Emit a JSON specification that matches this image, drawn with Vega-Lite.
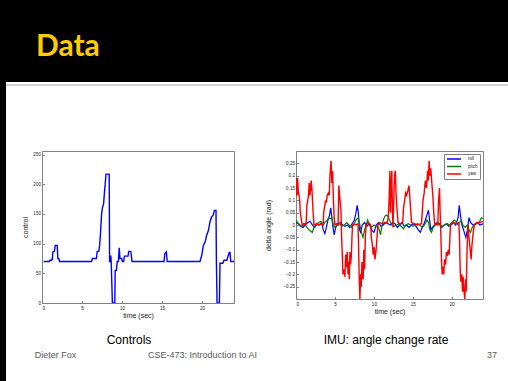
{
  "$schema": "https://vega.github.io/schema/vega-lite/v6.json",
  "padding": 0,
  "background": "white",
  "data": {"values": [{"k": 1}]},
  "datasets": {
    "controls": [
      {"t":0.2,"v":70},{"t":0.9,"v":70},{"t":1.0,"v":72},{"t":1.2,"v":72},{"t":1.25,"v":74},{"t":1.3,"v":74},{"t":1.35,"v":86},{"t":1.55,"v":87},{"t":1.65,"v":97},{"t":1.9,"v":97},{"t":1.98,"v":75},{"t":2.1,"v":75},{"t":2.2,"v":70},
      {"t":6.2,"v":70},{"t":6.3,"v":75},{"t":6.8,"v":75},{"t":6.9,"v":87},{"t":7.1,"v":87},{"t":7.2,"v":97},{"t":7.3,"v":115},{"t":7.45,"v":150},{"t":7.55,"v":160},{"t":7.7,"v":167},{"t":7.8,"v":185},{"t":7.9,"v":200},{"t":8.0,"v":217},{"t":8.4,"v":217},{"t":8.45,"v":70},{"t":8.55,"v":70},{"t":8.6,"v":80},{"t":8.65,"v":70},{"t":8.8,"v":0},{"t":9.1,"v":0},{"t":9.15,"v":55},{"t":9.3,"v":55},{"t":9.4,"v":70},{"t":9.55,"v":70},{"t":9.65,"v":93},{"t":9.75,"v":75},{"t":9.95,"v":75},{"t":10.05,"v":70},{"t":10.2,"v":70},{"t":10.3,"v":79},{"t":10.75,"v":79},{"t":10.85,"v":87},{"t":11.1,"v":87},{"t":11.25,"v":70},
      {"t":15.25,"v":70},{"t":15.35,"v":83},{"t":15.55,"v":86},{"t":15.65,"v":70},
      {"t":19.75,"v":70},{"t":19.96,"v":80},{"t":20.17,"v":97},{"t":20.4,"v":103},{"t":20.58,"v":114},{"t":20.8,"v":122},{"t":21.0,"v":137},{"t":21.2,"v":145},{"t":21.4,"v":148},{"t":21.54,"v":156},{"t":21.75,"v":156},{"t":21.8,"v":70},{"t":21.88,"v":0},{"t":22.17,"v":0},{"t":22.25,"v":67},{"t":22.6,"v":67},{"t":22.75,"v":72},{"t":23.1,"v":72},{"t":23.17,"v":75},{"t":23.4,"v":85},{"t":23.5,"v":85},{"t":23.6,"v":70},{"t":24.0,"v":70}
    ],
    "roll": [
      {"t":0,"v":0.01},{"t":0.3,"v":0.005},{"t":0.6,"v":-0.005},{"t":0.9,"v":-0.01},{"t":1.2,"v":0.0},{"t":1.5,"v":0.01},{"t":1.8,"v":0.015},{"t":2.1,"v":0.0},{"t":2.4,"v":-0.01},{"t":2.7,"v":0.005},{"t":3.0,"v":0.0},{"t":3.3,"v":0.01},{"t":3.5,"v":-0.02},{"t":3.7,"v":-0.035},{"t":3.9,"v":-0.01},{"t":4.1,"v":0.02},{"t":4.3,"v":0.04},{"t":4.45,"v":0.07},{"t":4.6,"v":0.03},{"t":4.75,"v":-0.01},{"t":4.9,"v":-0.04},{"t":5.1,"v":-0.01},{"t":5.4,"v":0.005},{"t":5.7,"v":0.01},{"t":6.0,"v":0.0},{"t":6.3,"v":-0.005},{"t":6.6,"v":0.0},{"t":6.9,"v":-0.01},{"t":7.2,"v":0.005},{"t":7.5,"v":0.02},{"t":7.7,"v":0.05},{"t":7.85,"v":0.08},{"t":8.0,"v":0.05},{"t":8.15,"v":-0.02},{"t":8.3,"v":-0.03},{"t":8.5,"v":0.0},{"t":8.8,"v":0.01},{"t":9.1,"v":-0.005},{"t":9.4,"v":0.005},{"t":9.7,"v":-0.02},{"t":10.0,"v":-0.03},{"t":10.3,"v":0.0},{"t":10.6,"v":0.01},{"t":10.9,"v":-0.005},{"t":11.2,"v":0.0},{"t":11.5,"v":0.01},{"t":11.8,"v":0.005},{"t":12.1,"v":0.0},{"t":12.4,"v":0.01},{"t":12.7,"v":0.005},{"t":13.0,"v":-0.01},{"t":13.3,"v":0.0},{"t":13.6,"v":0.01},{"t":13.9,"v":-0.005},{"t":14.2,"v":0.0},{"t":14.5,"v":-0.01},{"t":14.8,"v":0.0},{"t":15.1,"v":0.005},{"t":15.4,"v":-0.005},{"t":15.7,"v":-0.02},{"t":15.95,"v":-0.03},{"t":16.2,"v":-0.01},{"t":16.5,"v":0.01},{"t":16.7,"v":0.03},{"t":16.9,"v":0.05},{"t":17.0,"v":0.06},{"t":17.15,"v":0.02},{"t":17.3,"v":-0.02},{"t":17.5,"v":-0.01},{"t":17.8,"v":0.0},{"t":18.1,"v":0.01},{"t":18.4,"v":0.005},{"t":18.7,"v":-0.01},{"t":19.0,"v":0.0},{"t":19.3,"v":0.005},{"t":19.6,"v":-0.005},{"t":19.9,"v":0.0},{"t":20.2,"v":0.01},{"t":20.5,"v":0.0},{"t":20.8,"v":0.03},{"t":20.95,"v":0.08},{"t":21.1,"v":0.04},{"t":21.3,"v":0.0},{"t":21.5,"v":-0.02},{"t":21.8,"v":-0.05},{"t":22.0,"v":-0.02},{"t":22.2,"v":0.03},{"t":22.4,"v":0.01},{"t":22.7,"v":0.0},{"t":23.0,"v":0.005},{"t":23.3,"v":0.01},{"t":23.6,"v":0.0},{"t":24.0,"v":0.005}
    ],
    "pitch": [
      {"t":0,"v":0.02},{"t":0.2,"v":0.01},{"t":0.5,"v":0.0},{"t":0.8,"v":-0.005},{"t":1.1,"v":0.005},{"t":1.4,"v":-0.01},{"t":1.7,"v":-0.02},{"t":1.9,"v":-0.025},{"t":2.1,"v":-0.03},{"t":2.3,"v":-0.01},{"t":2.6,"v":0.0},{"t":2.9,"v":0.01},{"t":3.2,"v":0.015},{"t":3.4,"v":0.0},{"t":3.7,"v":0.01},{"t":4.0,"v":0.02},{"t":4.2,"v":0.03},{"t":4.4,"v":0.025},{"t":4.6,"v":0.03},{"t":4.8,"v":0.0},{"t":5.0,"v":-0.01},{"t":5.3,"v":0.0},{"t":5.6,"v":0.005},{"t":5.9,"v":-0.005},{"t":6.2,"v":0.0},{"t":6.5,"v":0.01},{"t":6.8,"v":0.0},{"t":7.1,"v":-0.01},{"t":7.4,"v":0.0},{"t":7.7,"v":0.02},{"t":8.0,"v":0.03},{"t":8.2,"v":0.0},{"t":8.4,"v":-0.03},{"t":8.6,"v":-0.05},{"t":8.8,"v":-0.02},{"t":9.0,"v":0.0},{"t":9.2,"v":0.02},{"t":9.4,"v":0.0},{"t":9.7,"v":-0.01},{"t":10.0,"v":0.0},{"t":10.3,"v":-0.005},{"t":10.6,"v":-0.01},{"t":10.85,"v":-0.04},{"t":11.0,"v":-0.01},{"t":11.2,"v":0.02},{"t":11.4,"v":0.035},{"t":11.6,"v":0.04},{"t":11.8,"v":0.035},{"t":12.0,"v":0.02},{"t":12.3,"v":0.0},{"t":12.6,"v":-0.005},{"t":12.9,"v":0.0},{"t":13.2,"v":0.005},{"t":13.5,"v":-0.005},{"t":13.8,"v":-0.015},{"t":14.1,"v":0.0},{"t":14.4,"v":0.005},{"t":14.7,"v":0.0},{"t":15.0,"v":-0.005},{"t":15.3,"v":0.0},{"t":15.6,"v":0.005},{"t":15.9,"v":0.0},{"t":16.2,"v":-0.01},{"t":16.5,"v":0.0},{"t":16.8,"v":0.02},{"t":17.0,"v":0.01},{"t":17.2,"v":-0.02},{"t":17.4,"v":-0.03},{"t":17.6,"v":-0.01},{"t":17.9,"v":0.0},{"t":18.2,"v":0.005},{"t":18.5,"v":0.0},{"t":18.8,"v":-0.005},{"t":19.1,"v":0.0},{"t":19.4,"v":0.005},{"t":19.7,"v":0.0},{"t":20.0,"v":0.01},{"t":20.3,"v":0.02},{"t":20.5,"v":0.015},{"t":20.8,"v":0.0},{"t":21.0,"v":0.01},{"t":21.2,"v":0.02},{"t":21.4,"v":0.0},{"t":21.7,"v":-0.01},{"t":22.0,"v":0.0},{"t":22.2,"v":-0.02},{"t":22.4,"v":-0.03},{"t":22.6,"v":-0.01},{"t":22.9,"v":0.0},{"t":23.2,"v":0.005},{"t":23.5,"v":0.01},{"t":23.8,"v":0.03},{"t":24.0,"v":0.025}
    ],
    "yaw": [
      {"t":0.05,"v":0.12},{"t":0.1,"v":0.19},{"t":0.15,"v":0.12},{"t":0.2,"v":0.19},{"t":0.3,"v":0.13},{"t":0.4,"v":0.12},{"t":0.47,"v":0.1},{"t":0.55,"v":0.05},{"t":0.7,"v":0.02},{"t":0.8,"v":0.0},{"t":1.0,"v":0.005},{"t":1.2,"v":0.0},{"t":1.3,"v":0.01},{"t":1.4,"v":0.08},{"t":1.5,"v":0.1},{"t":1.6,"v":0.12},{"t":1.7,"v":0.17},{"t":1.8,"v":0.12},{"t":1.95,"v":0.18},{"t":2.05,"v":0.14},{"t":2.2,"v":0.05},{"t":2.3,"v":0.0},{"t":2.6,"v":0.005},{"t":2.9,"v":0.0},{"t":3.2,"v":0.005},{"t":3.5,"v":0.0},{"t":3.55,"v":0.05},{"t":3.7,"v":0.08},{"t":3.8,"v":0.1},{"t":3.9,"v":0.09},{"t":4.0,"v":0.12},{"t":4.15,"v":0.13},{"t":4.27,"v":0.12},{"t":4.36,"v":0.2},{"t":4.5,"v":0.26},{"t":4.6,"v":0.17},{"t":4.7,"v":0.22},{"t":4.8,"v":0.1},{"t":4.9,"v":0.03},{"t":5.0,"v":0.0},{"t":5.2,"v":0.005},{"t":5.4,"v":0.0},{"t":5.5,"v":0.16},{"t":5.65,"v":0.1},{"t":5.77,"v":0.06},{"t":5.85,"v":-0.05},{"t":5.94,"v":-0.12},{"t":6.03,"v":-0.2},{"t":6.15,"v":-0.18},{"t":6.28,"v":-0.21},{"t":6.37,"v":-0.12},{"t":6.48,"v":-0.17},{"t":6.58,"v":-0.11},{"t":6.67,"v":-0.2},{"t":6.75,"v":-0.15},{"t":6.84,"v":-0.22},{"t":6.92,"v":-0.11},{"t":7.0,"v":-0.16},{"t":7.1,"v":-0.13},{"t":7.18,"v":-0.05},{"t":7.26,"v":0.0},{"t":7.5,"v":0.005},{"t":7.7,"v":0.0},{"t":7.95,"v":0.005},{"t":8.03,"v":-0.08},{"t":8.1,"v":-0.2},{"t":8.2,"v":-0.3},{"t":8.3,"v":-0.2},{"t":8.38,"v":-0.25},{"t":8.46,"v":-0.15},{"t":8.55,"v":-0.2},{"t":8.62,"v":-0.22},{"t":8.7,"v":-0.1},{"t":8.8,"v":-0.18},{"t":8.9,"v":-0.05},{"t":9.0,"v":0.0},{"t":9.3,"v":0.01},{"t":9.6,"v":0.0},{"t":9.66,"v":-0.05},{"t":9.8,"v":-0.08},{"t":9.9,"v":-0.12},{"t":10.04,"v":-0.09},{"t":10.13,"v":-0.14},{"t":10.25,"v":-0.11},{"t":10.4,"v":-0.05},{"t":10.5,"v":0.0},{"t":10.8,"v":0.01},{"t":11.1,"v":0.005},{"t":11.4,"v":0.01},{"t":11.7,"v":0.01},{"t":11.84,"v":0.03},{"t":11.95,"v":0.1},{"t":12.05,"v":0.22},{"t":12.12,"v":0.05},{"t":12.2,"v":0.15},{"t":12.3,"v":0.22},{"t":12.38,"v":0.05},{"t":12.45,"v":-0.01},{"t":12.55,"v":0.1},{"t":12.65,"v":0.2},{"t":12.75,"v":0.22},{"t":12.85,"v":0.12},{"t":13.0,"v":0.05},{"t":13.1,"v":0.01},{"t":13.4,"v":0.005},{"t":13.7,"v":0.01},{"t":13.8,"v":0.07},{"t":13.95,"v":0.1},{"t":14.06,"v":0.13},{"t":14.2,"v":0.12},{"t":14.36,"v":0.14},{"t":14.5,"v":0.16},{"t":14.57,"v":0.13},{"t":14.7,"v":0.07},{"t":14.83,"v":0.01},{"t":15.2,"v":0.005},{"t":15.6,"v":0.0},{"t":16.1,"v":0.005},{"t":16.2,"v":0.05},{"t":16.3,"v":0.1},{"t":16.45,"v":0.13},{"t":16.6,"v":0.18},{"t":16.75,"v":0.15},{"t":16.88,"v":0.22},{"t":16.97,"v":0.18},{"t":17.09,"v":0.26},{"t":17.18,"v":0.2},{"t":17.3,"v":0.23},{"t":17.43,"v":0.17},{"t":17.56,"v":0.12},{"t":17.68,"v":0.05},{"t":17.8,"v":0.0},{"t":18.0,"v":0.005},{"t":18.2,"v":0.0},{"t":18.3,"v":0.1},{"t":18.42,"v":0.15},{"t":18.5,"v":0.05},{"t":18.6,"v":-0.05},{"t":18.68,"v":-0.15},{"t":18.76,"v":-0.2},{"t":18.88,"v":-0.17},{"t":18.97,"v":-0.2},{"t":19.05,"v":-0.14},{"t":19.2,"v":-0.16},{"t":19.3,"v":-0.11},{"t":19.44,"v":-0.12},{"t":19.55,"v":-0.1},{"t":19.66,"v":-0.12},{"t":19.75,"v":-0.05},{"t":19.83,"v":0.0},{"t":20.2,"v":0.01},{"t":20.6,"v":0.005},{"t":20.9,"v":0.01},{"t":20.98,"v":-0.05},{"t":21.07,"v":-0.18},{"t":21.15,"v":-0.23},{"t":21.28,"v":-0.2},{"t":21.37,"v":-0.27},{"t":21.45,"v":-0.21},{"t":21.54,"v":-0.26},{"t":21.67,"v":-0.3},{"t":21.75,"v":-0.22},{"t":21.84,"v":-0.27},{"t":21.92,"v":-0.15},{"t":22.0,"v":-0.05},{"t":22.08,"v":0.0},{"t":22.2,"v":-0.05},{"t":22.35,"v":-0.1},{"t":22.48,"v":-0.14},{"t":22.56,"v":-0.09},{"t":22.65,"v":-0.06},{"t":22.78,"v":-0.02},{"t":22.9,"v":0.0},{"t":23.2,"v":0.01},{"t":23.6,"v":0.01},{"t":24.0,"v":0.015}
    ]
  },
  "bounds": "flush",
  "spacing": 0,
  "resolve": {"scale": {"color": "independent"}, "legend": {"color": "independent"}},
  "vconcat": [
    {
      "width": 508, "height": 82,
      "view": {"fill": "black", "stroke": null},
      "mark": {"type": "rect", "color": "black"},
      "encoding": {},
      "title": {"text": "Data", "anchor": "start", "frame": "group", "orient": "top", "offset": -86, "dx": 36, "baseline": "alphabetic", "font": "Lato", "fontSize": 30, "fontWeight": "bold", "color": "#FFCC00"}
    },
    {
      "bounds": "flush",
      "spacing": 0,
      "resolve": {"scale": {"color": "independent"}, "legend": {"color": "independent"}},
      "hconcat": [
        {"width": 6, "height": 299, "view": {"fill": "black", "stroke": null}, "mark": {"type": "rect", "color": "black"}, "encoding": {}},
        {
          "bounds": "flush",
          "spacing": 0,
          "resolve": {"scale": {"color": "independent"}, "legend": {"color": "independent"}},
          "vconcat": [
            {"width": 502, "height": 2, "mark": {"type": "rect", "opacity": 0}, "encoding": {}},
            {"width": 502, "height": 2, "view": {"fill": "#d4d4d4", "stroke": null}, "mark": {"type": "rect", "color": "#d4d4d4"}, "encoding": {}},
            {"width": 502, "height": 65, "mark": {"type": "rect", "opacity": 0}, "encoding": {}},
            {
              "bounds": "flush",
              "spacing": 0,
              "resolve": {"scale": {"color": "independent"}, "legend": {"color": "independent"}},
              "hconcat": [
                {"width": 36, "height": 152, "mark": {"type": "rect", "opacity": 0}, "encoding": {}},
                {
                  "width": 192, "height": 152,
                  "data": {"name": "controls"},
                  "view": {"stroke": "#808080", "strokeWidth": 1},
                  "mark": {"type": "line", "color": "#0000FF", "strokeWidth": 1.4, "clip": true},
                  "encoding": {
                    "x": {"field": "t", "type": "quantitative", "scale": {"domain": [0, 24], "nice": false, "zero": false}, "axis": {"values": [0, 5, 10, 15, 20], "format": "d", "title": "time (sec)", "labelPadding": 5, "titlePadding": 1}},
                    "y": {"field": "v", "type": "quantitative", "scale": {"domain": [0, 256], "nice": false}, "axis": {"values": [0, 50, 100, 150, 200, 250], "format": "d", "title": "control", "labelPadding": 4, "titlePadding": 4}}
                  }
                },
                {"width": 62, "height": 152, "mark": {"type": "rect", "opacity": 0}, "encoding": {}},
                {
                  "width": 187, "height": 148,
                  "view": {"stroke": "#808080", "strokeWidth": 1},
                  "encoding": {
                    "x": {"field": "t", "type": "quantitative", "scale": {"domain": [0, 24], "nice": false, "zero": false}, "axis": {"values": [0, 5, 10, 15, 20], "format": "d", "title": "time (sec)", "labelPadding": 5, "titlePadding": 1}},
                    "y": {"field": "v", "type": "quantitative", "scale": {"domain": [-0.3, 0.3], "nice": false}, "axis": {"values": [-0.25, -0.2, -0.15, -0.1, -0.05, 0, 0.05, 0.1, 0.15, 0.2, 0.25], "format": "~g", "title": "delta angle (rad)", "labelPadding": 4, "titlePadding": 11}}
                  },
                  "layer": [
                    {"data": {"name": "roll"}, "mark": {"type": "line", "strokeWidth": 1.2, "clip": true}, "encoding": {"color": {"datum": "roll", "scale": {"domain": ["roll", "pitch", "yaw"], "range": ["#0000FF", "#008000", "#FF0000"]}, "legend": {"title": null}}}},
                    {"data": {"name": "pitch"}, "mark": {"type": "line", "strokeWidth": 1.2, "clip": true}, "encoding": {"color": {"datum": "pitch"}}},
                    {"data": {"name": "yaw"}, "mark": {"type": "line", "strokeWidth": 1.4, "clip": true}, "encoding": {"color": {"datum": "yaw"}}}
                  ]
                },
                {"width": 25, "height": 152, "mark": {"type": "rect", "opacity": 0}, "encoding": {}}
              ]
            },
            {"width": 502, "height": 179, "mark": {"type": "rect", "opacity": 0}, "encoding": {}},
            {
              "bounds": "flush",
              "spacing": 0,
              "hconcat": [
                {"width": 73, "height": 20, "mark": {"type": "rect", "opacity": 0}, "encoding": {}},
                {"width": 100, "height": 20, "data": {"values": [{"label": "Controls"}]}, "mark": {"type": "text", "align": "center", "baseline": "middle", "fontSize": 12, "font": "Liberation Sans", "color": "black"}, "encoding": {"text": {"field": "label"}}},
                {"width": 137, "height": 20, "mark": {"type": "rect", "opacity": 0}, "encoding": {}},
                {"width": 140, "height": 20, "data": {"values": [{"label": "IMU: angle change rate"}]}, "mark": {"type": "text", "align": "center", "baseline": "middle", "fontSize": 12, "font": "Liberation Sans", "color": "black"}, "encoding": {"text": {"field": "label"}}},
                {"width": 52, "height": 20, "mark": {"type": "rect", "opacity": 0}, "encoding": {}}
              ]
            },
            {"width": 502, "height": 20, "mark": {"type": "rect", "opacity": 0}, "encoding": {}},
            {
              "bounds": "flush",
              "spacing": 0,
              "hconcat": [
                {"width": 99, "height": 10, "data": {"values": [{"label": "Dieter Fox"}]}, "mark": {"type": "text", "align": "center", "baseline": "middle", "fontSize": 9, "font": "Liberation Sans", "color": "#595959"}, "encoding": {"text": {"field": "label"}}},
                {"width": 195, "height": 10, "data": {"values": [{"label": "CSE-473: Introduction to AI"}]}, "mark": {"type": "text", "align": "center", "baseline": "middle", "fontSize": 9, "font": "Liberation Sans", "color": "#595959"}, "encoding": {"text": {"field": "label"}}},
                {"width": 176, "height": 10, "mark": {"type": "rect", "opacity": 0}, "encoding": {}},
                {"width": 32, "height": 10, "data": {"values": [{"label": "37"}]}, "mark": {"type": "text", "align": "center", "baseline": "middle", "fontSize": 9, "font": "Liberation Sans", "color": "#595959"}, "encoding": {"text": {"field": "label"}}}
              ]
            }
          ]
        }
      ]
    }
  ],
  "config": {
    "view": {"stroke": null},
    "font": "Liberation Sans",
    "axis": {
      "grid": false,
      "domainColor": "#808080",
      "tickColor": "#808080",
      "tickSize": -2.5,
      "labelFontSize": 4.6,
      "labelColor": "#222222",
      "labelFont": "Liberation Sans",
      "titleFont": "Liberation Sans",
      "titleFontSize": 7,
      "titleFontWeight": "normal",
      "titleColor": "#222222"
    },
    "legend": {
      "orient": "top-right",
      "offset": 3,
      "symbolType": "M-3.5,0H3.5",
      "symbolSize": 16,
      "symbolOffset": 5,
      "symbolStrokeWidth": 1.5,
      "labelFontSize": 4.5,
      "labelColor": "#222222",
      "labelOffset": 11,
      "rowPadding": 1.5,
      "padding": 2,
      "strokeColor": "#808080",
      "fillColor": "white"
    }
  }
}
